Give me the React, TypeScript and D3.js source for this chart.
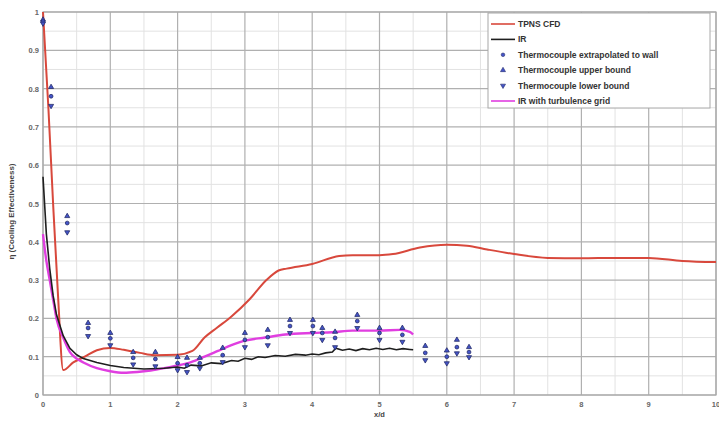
import React from "react";
import * as d3 from "d3";

const W = 719, H = 423;
const margin = { left: 43, right: 3, top: 12, bottom: 28 };

const xTicks = [0, 1, 2, 3, 4, 5, 6, 7, 8, 9, 10];
const yTicks = [0, 0.1, 0.2, 0.3, 0.4, 0.5, 0.6, 0.7, 0.8, 0.9, 1];
const yTickLabels = ["0", "0.1", "0.2", "0.3", "0.4", "0.5", "0.6", "0.7", "0.8", "0.9", "1"];

const cfdX = [0, 0.08, 0.15, 0.22, 0.3, 0.45, 0.62, 0.8, 1.0, 1.2, 1.44, 1.66, 2.0, 2.22, 2.4, 2.58, 2.8, 3.07, 3.32, 3.5, 3.62, 4.0, 4.4, 4.6, 5.0, 5.2, 5.6, 6.0, 6.3, 6.6, 7.0, 7.5, 8.0, 8.5, 9.0, 9.5, 10.0];
const cfdY = [1.0, 0.75, 0.5, 0.27, 0.065, 0.085, 0.1, 0.117, 0.123, 0.118, 0.11, 0.104, 0.105, 0.115, 0.15, 0.175, 0.205, 0.25, 0.3, 0.325, 0.33, 0.342, 0.363, 0.365, 0.365, 0.368, 0.385, 0.392, 0.39, 0.38, 0.368, 0.358, 0.357, 0.358, 0.358, 0.35, 0.347];

const irX = [0, 0.05, 0.1, 0.15, 0.2, 0.3, 0.4, 0.5, 0.6, 0.8, 1.0, 1.2, 1.5, 1.8, 2.0, 2.1, 2.2, 2.35, 2.5, 2.65, 2.8, 2.9, 3.0, 3.1, 3.2, 3.3, 3.45, 3.6, 3.75, 3.9, 4.0, 4.1, 4.2, 4.3, 4.35, 4.45, 4.55, 4.65, 4.75, 4.85, 4.95, 5.05, 5.15, 5.25, 5.35, 5.45, 5.5];
const irY = [0.57, 0.42, 0.33, 0.26, 0.21, 0.155, 0.122, 0.105, 0.095, 0.085, 0.077, 0.072, 0.068, 0.07, 0.073, 0.07, 0.078, 0.076, 0.084, 0.082, 0.09, 0.088, 0.096, 0.093, 0.1, 0.098, 0.103, 0.101, 0.106, 0.104, 0.107, 0.105, 0.11, 0.112, 0.122, 0.117, 0.12, 0.116, 0.121, 0.118, 0.122, 0.119, 0.122, 0.118, 0.121, 0.119, 0.118];

const gridX = [0, 0.05, 0.1, 0.15, 0.2, 0.3, 0.4, 0.5, 0.6, 0.8, 1.0, 1.2, 1.4, 1.6, 1.8, 2.0, 2.2, 2.4, 2.6, 2.8, 3.0, 3.3, 3.6, 4.0, 4.3, 4.6, 5.0, 5.3, 5.45, 5.5];
const gridY = [0.42, 0.35, 0.3, 0.25, 0.2, 0.15, 0.112, 0.095, 0.085, 0.07, 0.062, 0.058, 0.06, 0.064, 0.07, 0.077, 0.086, 0.1, 0.115, 0.13, 0.142, 0.15, 0.158, 0.162, 0.164, 0.168, 0.168, 0.17, 0.165, 0.158];

const tcX = [0, 0.12, 0.36, 0.67, 1.0, 1.34, 1.67, 2.0, 2.14, 2.33, 2.67, 3.0, 3.34, 3.67, 4.01, 4.15, 4.34, 4.67, 5.0, 5.34, 5.68, 6.0, 6.15, 6.33];
const tcUpper = [0.98, 0.804, 0.467, 0.188, 0.162, 0.112, 0.112, 0.099, 0.097, 0.097, 0.123, 0.162, 0.17, 0.196, 0.196, 0.175, 0.165, 0.209, 0.175, 0.175, 0.128, 0.116, 0.144, 0.125];
const tcMid = [0.975, 0.78, 0.449, 0.175, 0.148, 0.097, 0.094, 0.083, 0.078, 0.083, 0.104, 0.144, 0.151, 0.18, 0.18, 0.162, 0.149, 0.193, 0.162, 0.157, 0.11, 0.1, 0.125, 0.112];
const tcLower = [0.97, 0.755, 0.425, 0.154, 0.13, 0.08, 0.075, 0.065, 0.06, 0.07, 0.086, 0.125, 0.13, 0.162, 0.162, 0.144, 0.125, 0.175, 0.144, 0.139, 0.091, 0.083, 0.109, 0.099];

const legendLabels = ["TPNS CFD", "IR", "Thermocouple extrapolated to wall", "Thermocouple upper bound", "Thermocouple lower bound", "IR with turbulence grid"];

const RED = "#d8483c";
const BLACK = "#1e1e1e";
const MAG = "#e03ee0";
const BLUE = "#4454c8";
const BLUE_EDGE = "#252c6a";

export default function App() {
  const x = d3.scaleLinear().domain([0, 10]).range([margin.left, W - margin.right]);
  const y = d3.scaleLinear().domain([0, 1]).range([H - margin.bottom, margin.top]);
  const line = (xs: number[], ys: number[]) =>
    d3.line<number>().x((_, i) => x(xs[i])).y((_, i) => y(ys[i]))(xs) || "";
  const smooth = (xs: number[], ys: number[]) =>
    d3.line<number>().x((_, i) => x(xs[i])).y((_, i) => y(ys[i])).curve(d3.curveMonotoneX)(xs) || "";

  const minorX = d3.range(0.5, 10, 1);
  const minorY = d3.range(0.05, 1, 0.1);
  const tri = d3.symbol().type(d3.symbolTriangle).size(11)() || "";
  const font = "Liberation Sans, Arial, sans-serif";

  return (
    <svg width={W} height={H} style={{ position: "absolute", left: 0, top: 0, background: "#fff" }}>
      <rect x={0} y={0} width={W} height={H} fill="#fff" />
      {minorX.map((v) => (
        <line key={"mx" + v} x1={x(v)} x2={x(v)} y1={y(0)} y2={y(1)} stroke="#e2e2e2" strokeWidth={1} />
      ))}
      {minorY.map((v) => (
        <line key={"my" + v} x1={x(0)} x2={x(10)} y1={y(v)} y2={y(v)} stroke="#e2e2e2" strokeWidth={1} />
      ))}
      {xTicks.map((v) => (
        <line key={"gx" + v} x1={x(v)} x2={x(v)} y1={y(0)} y2={y(1)} stroke="#b0b0b0" strokeWidth={1.2} />
      ))}
      {yTicks.map((v) => (
        <line key={"gy" + v} x1={x(0)} x2={x(10)} y1={y(v)} y2={y(v)} stroke="#b0b0b0" strokeWidth={1.2} />
      ))}
      <rect x={x(0)} y={y(1)} width={x(10) - x(0)} height={y(0) - y(1)} fill="none" stroke="#a8a8a8" strokeWidth={1.2} />
      {xTicks.map((v) => (
        <text key={"tx" + v} x={x(v)} y={y(0) + 12} fontSize={7.5} fill="#666" textAnchor="middle" fontFamily={font} fontWeight="bold">
          {String(v)}
        </text>
      ))}
      {yTicks.map((v, i) => (
        <text key={"ty" + v} x={x(0) - 4} y={y(v) + 3} fontSize={7.5} fill="#666" textAnchor="end" fontFamily={font} fontWeight="bold">
          {yTickLabels[i]}
        </text>
      ))}
      <text x={x(5)} y={H - 6} fontSize={7.5} fill="#444" textAnchor="middle" fontFamily={font} fontWeight="bold">x/d</text>
      <text transform={`translate(14,${y(0.5) + 8}) rotate(-90)`} fontSize={8} fill="#444" textAnchor="middle" fontFamily={font} fontWeight="bold">
        η (Cooling Effectiveness)
      </text>

      <path d={smooth(cfdX, cfdY)} fill="none" stroke={RED} strokeWidth={2} />
      <path d={smooth(gridX, gridY)} fill="none" stroke={MAG} strokeWidth={2.4} />
      <path d={line(irX, irY)} fill="none" stroke={BLACK} strokeWidth={1.6} />

      {tcX.map((v, i) => (
        <g key={"tc" + i}>
          <path d={tri} transform={`translate(${x(v)},${y(tcUpper[i])})`} fill={BLUE} stroke={BLUE_EDGE} strokeWidth={0.8} />
          <circle cx={x(v)} cy={y(tcMid[i])} r={1.9} fill={BLUE} stroke={BLUE_EDGE} strokeWidth={0.8} />
          <path d={tri} transform={`translate(${x(v)},${y(tcLower[i])}) rotate(180)`} fill={BLUE} stroke={BLUE_EDGE} strokeWidth={0.8} />
        </g>
      ))}

      <g>
        <rect x={488} y={13} width={222} height={95} fill="#fff" stroke="#a8a8a8" strokeWidth={1} />
        {legendLabels.map((lab, i) => {
          const ly = 24 + i * 15.4;
          let mark: React.ReactNode = null;
          if (i === 0) mark = <line x1={491} x2={515} y1={ly} y2={ly} stroke={RED} strokeWidth={1.6} />;
          if (i === 1) mark = <line x1={491} x2={515} y1={ly} y2={ly} stroke={BLACK} strokeWidth={1.6} />;
          if (i === 5) mark = <line x1={491} x2={515} y1={ly} y2={ly} stroke={MAG} strokeWidth={1.6} />;
          if (i === 2) mark = <circle cx={503} cy={ly} r={1.8} fill={BLUE} stroke={BLUE_EDGE} strokeWidth={0.6} />;
          if (i === 3) mark = <path d={tri} transform={`translate(503,${ly})`} fill={BLUE} stroke={BLUE_EDGE} strokeWidth={0.6} />;
          if (i === 4) mark = <path d={tri} transform={`translate(503,${ly}) rotate(180)`} fill={BLUE} stroke={BLUE_EDGE} strokeWidth={0.6} />;
          return (
            <g key={"lg" + i}>
              {mark}
              <text x={518} y={ly + 3} fontSize={8.5} fill="#333" fontFamily={font} fontWeight="bold">{lab}</text>
            </g>
          );
        })}
      </g>
    </svg>
  );
}
